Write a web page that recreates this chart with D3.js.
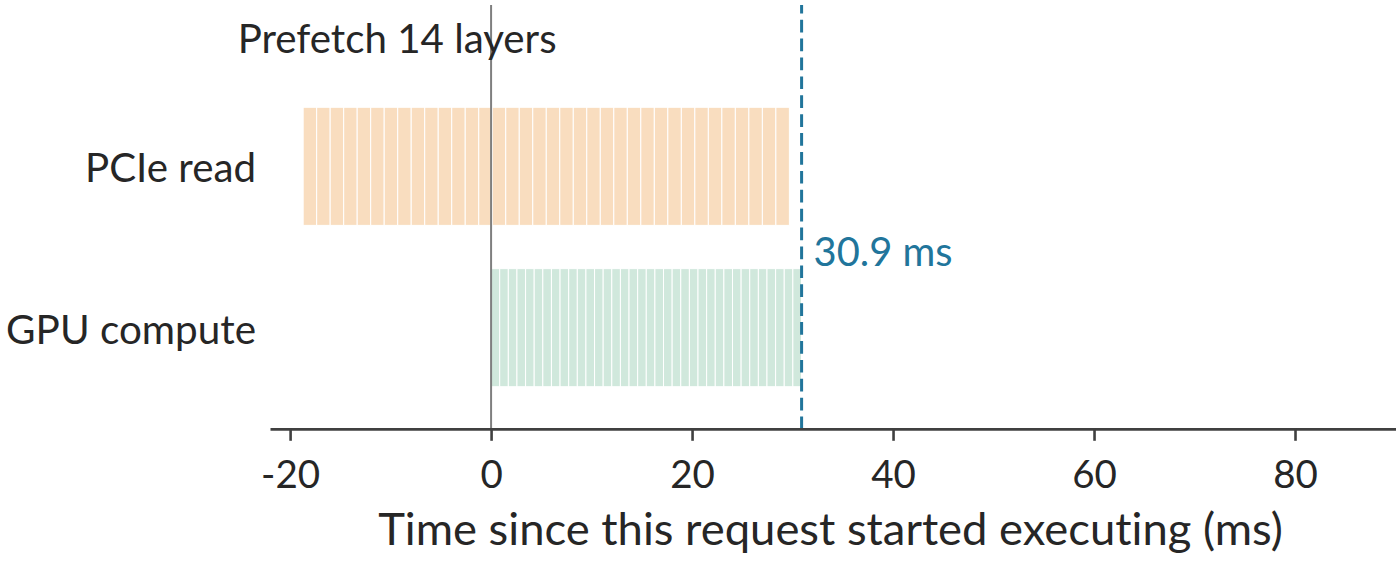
<!DOCTYPE html>
<html>
<head>
<meta charset="utf-8">
<script src="https://cdn.jsdelivr.net/npm/d3@7"></script>
<style>
  body { margin: 0; background: #fff; }
  text { font-family: Lato, "Noto Sans", sans-serif; fill: #262626; font-variant-ligatures: none; }
</style>
</head>
<body>
<svg id="chart" width="1400" height="562"></svg>
<script>
// data
var categories = ['PCIe read', 'GPU compute'];
var prefetchLayers = 14;
var pcieStartMs = -18.7;
var pcieLayerMs = [1.344, 1.344, 1.344, 1.344, 1.344, 1.344, 1.344, 1.344, 1.344, 1.344, 1.344, 1.344,
                   1.344, 1.344, 1.344, 1.344, 1.344, 1.344, 1.344, 1.344, 1.344, 1.344, 1.344, 1.344,
                   1.344, 1.344, 1.344, 1.344, 1.344, 1.344, 1.344, 1.344, 1.344, 1.344, 1.344, 1.344];
var gpuStartMs = 0;
var gpuLayerMs = [0.858, 0.858, 0.858, 0.858, 0.858, 0.858, 0.858, 0.858, 0.858, 0.858, 0.858, 0.858,
                  0.858, 0.858, 0.858, 0.858, 0.858, 0.858, 0.858, 0.858, 0.858, 0.858, 0.858, 0.858,
                  0.858, 0.858, 0.858, 0.858, 0.858, 0.858, 0.858, 0.858, 0.858, 0.858, 0.858, 0.858];
var finishMs = 30.9;
var xTicks = [-20, 0, 20, 40, 60, 80];
var xLabel = 'Time since this request started executing (ms)';

var width = 1400;
var height = 562;
var margin = {top: 5, bottom: 133, left: 270, right: 4.5};

var svg = d3.select('#chart');

//scales
var xScale = d3.scaleLinear()
    .domain([-22, 90])
    .range([margin.left, width - margin.right]);
var yScale = d3.scaleLinear()
    .domain([-1, 1.63])
    .range([margin.top, height - margin.bottom + 0.3]);
var barHeight = 0.732;

// turn layer durations into segments
var toSegments = (start, durations) => {
    var ends = d3.cumsum(durations);
    return durations.map((d, i) => ({x0: start + ends[i] - d, x1: start + ends[i]}));
};
var rows = [
    {name: categories[0], fill: '#f9ddbf', segs: toSegments(pcieStartMs, pcieLayerMs)},
    {name: categories[1], fill: '#d0e8dc', segs: toSegments(gpuStartMs, gpuLayerMs)}
];

var fit = (sel, w) => {
    var fs = parseFloat(sel.attr('font-size'));
    var cw = sel.node().getComputedTextLength();
    sel.attr('font-size', fs * w / cw);
};

//bars
rows.forEach((row, i) => {
    svg.append('g').selectAll('rect')
        .data(row.segs)
        .enter().append('rect')
        .attr('x', d => xScale(d.x0))
        .attr('width', d => xScale(d.x1) - xScale(d.x0))
        .attr('y', yScale(i - barHeight / 2))
        .attr('height', yScale(barHeight) - yScale(0))
        .attr('fill', row.fill)
        .attr('stroke', 'white')
        .attr('stroke-width', 1);

    var lbl = svg.append('text')
        .attr('x', margin.left - 14)
        .attr('y', yScale(i) + 16)
        .attr('text-anchor', 'end')
        .attr('font-size', 40)
        .text(row.name);
    fit(lbl, i === 0 ? 171 : 250);
});

// zero line
svg.append('line')
    .attr('x1', xScale(0)).attr('x2', xScale(0))
    .attr('y1', yScale(-1)).attr('y2', yScale(1.63))
    .attr('stroke', '#7f7f7f')
    .attr('stroke-width', 2);

// finish line, drawn bottom to top
svg.append('line')
    .attr('x1', xScale(finishMs)).attr('x2', xScale(finishMs))
    .attr('y1', yScale(1.63)).attr('y2', yScale(-1))
    .attr('stroke', '#21759b')
    .attr('stroke-width', 3)
    .attr('stroke-dasharray', '12.7,6.2');

var finishLbl = svg.append('text')
    .attr('x', xScale(finishMs) + 12)
    .attr('y', yScale(0.5) + 19)
    .attr('font-size', 40)
    .style('fill', '#21759b')
    .text(finishMs + ' ms');
fit(finishLbl, 139);

var pre = svg.append('text')
    .attr('x', xScale(pcieStartMs / 2))
    .attr('y', 52.7)
    .attr('text-anchor', 'middle')
    .attr('font-size', 40)
    .text('Prefetch ' + prefetchLayers + ' layers');
fit(pre, 319);

// x axis
var xAxis = d3.axisBottom()
    .scale(xScale)
    .tickValues(xTicks)
    .tickSize(12)
    .tickSizeOuter(0)
    .tickPadding(8)
    .tickFormat(d => String(d));

var gx = svg.append('g')
    .attr('transform', 'translate(' + [0, height - margin.bottom - 0.2] + ')')
    .call(xAxis);
gx.select('.domain').attr('stroke', '#404040').attr('stroke-width', 2.7);
gx.selectAll('.tick line').attr('stroke', '#404040').attr('stroke-width', 2.6);
gx.selectAll('.tick text')
    .attr('font-size', 38.5)
    .attr('font-family', 'Lato, sans-serif')
    .style('fill', '#262626')
    .attr('dy', null)
    .attr('y', 59);

var xl = svg.append('text')
    .attr('x', 830.5)
    .attr('y', 545)
    .attr('text-anchor', 'middle')
    .attr('font-size', 46)
    .text(xLabel);
fit(xl, 905);
</script>
</body>
</html>
